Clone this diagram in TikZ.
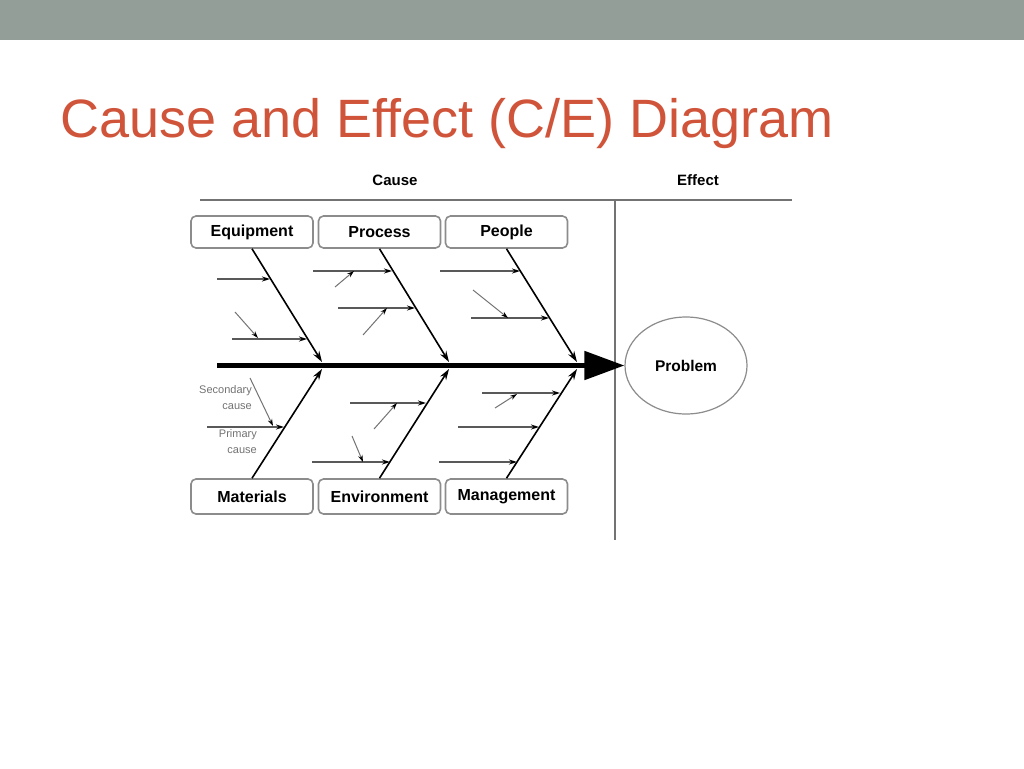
\documentclass[tikz,border=0pt]{standalone}
\usepackage{fontspec}
\setmainfont{Liberation Sans}
\usetikzlibrary{arrows.meta,shapes.geometric}
\definecolor{barcol}{RGB}{146,158,151}
\definecolor{titlecol}{RGB}{208,84,58}
\begin{document}
\begin{tikzpicture}[x=1pt,y=-1pt,
  cbox/.style={draw=black!45, line width=1.6pt, rounded corners=5pt, minimum width=122pt, minimum height=32pt, inner sep=0pt, font=\fontsize{16}{18}\selectfont\bfseries},
  bbox/.style={cbox, minimum height=35pt},
  bone/.style={line width=1.6pt, -{Stealth[length=11pt,width=7pt]}},
  prim/.style={draw=black!65, line width=1.5pt, -{Stealth[length=8pt,width=5pt,black]}},
  sec/.style={draw=black!55, line width=1pt, -{Stealth[length=7pt,width=4.5pt,black]}},
  frameline/.style={draw=black!55, line width=2pt},
  hdr/.style={font=\fontsize{15}{17}\selectfont\bfseries, inner sep=0pt},
  small/.style={font=\fontsize{11}{16}\selectfont, text=black!55, align=right, inner sep=0pt}]
\useasboundingbox (0,0) rectangle (1024,768);
\fill[white] (0,0) rectangle (1024,768);
\fill[barcol] (0,0) rectangle (1024,40);
\node[anchor=base west, text=titlecol, font=\fontsize{54}{60}\selectfont, inner sep=0pt] (title) at (60,137) {Cause and Effect (C/E) Diagram};

% header and frame
\node[hdr] (causelbl) at (395,180) {Cause};
\node[hdr] (effectlbl) at (698,180) {Effect};
\coordinate (fl) at (200,200);
\coordinate (fr) at (792,200);
\coordinate (vt) at (615,200);
\coordinate (vb) at (615,540);
\draw[frameline] (fl) -- (fr);
\draw[frameline] (vt) -- (vb);

% effect
\node[ellipse, draw=black!45, line width=1.2pt, minimum width=122pt, minimum height=97pt, inner sep=0pt, font=\fontsize{15.5}{18}\selectfont\bfseries] (problem) at (686,365.5) {Problem};

% spine
\coordinate (sp) at (217,365.5);
\draw[line width=5pt, -{Triangle[length=40pt,width=28pt]}] (sp) -- (problem.west);

% category boxes
\node[cbox] (equip) at (252,232) {Equipment};
\node[cbox] (process) at (379.5,232) {Process};
\node[cbox] (people) at (506.5,232) {People};
\node[bbox] (materials) at (252,496.5) {Materials};
\node[bbox] (environ) at (379.5,496.5) {Environment};
\node[bbox] (manage) at (506.5,496.5) {\raisebox{3pt}{Management}};

% main bones
\coordinate (eqend) at (322,362);
\coordinate (prend) at (449,362);
\coordinate (peend) at (577,362);
\coordinate (maend) at (322,369);
\coordinate (enend) at (449,369);
\coordinate (mgend) at (577,369);
\draw[bone] (equip.south) -- (eqend);
\draw[bone] (process.south) -- (prend);
\draw[bone] (people.south) -- (peend);
\draw[bone] (materials.north) -- (maend);
\draw[bone] (environ.north) -- (enend);
\draw[bone] (manage.north) -- (mgend);

% Equipment causes
\coordinate (e1a) at (217,279); \coordinate (e1b) at (270,279);
\coordinate (e2a) at (232,339); \coordinate (e2b) at (307,339);
\coordinate (e3a) at (235,312); \coordinate (e3b) at (258,338);
\draw[prim] (e1a) -- (e1b);
\draw[prim] (e2a) -- (e2b);
\draw[sec] (e3a) -- (e3b);

% Process causes
\coordinate (p1a) at (313,271); \coordinate (p1b) at (392,271);
\coordinate (p2a) at (338,308); \coordinate (p2b) at (415,308);
\coordinate (p3a) at (335,287); \coordinate (p3b) at (354,271);
\coordinate (p4a) at (363,335); \coordinate (p4b) at (387,308);
\draw[prim] (p1a) -- (p1b);
\draw[prim] (p2a) -- (p2b);
\draw[sec] (p3a) -- (p3b);
\draw[sec] (p4a) -- (p4b);

% People causes
\coordinate (q1a) at (440,271); \coordinate (q1b) at (520,271);
\coordinate (q2a) at (471,318); \coordinate (q2b) at (549,318);
\coordinate (q3a) at (473,290); \coordinate (q3b) at (508,318);
\draw[prim] (q1a) -- (q1b);
\draw[prim] (q2a) -- (q2b);
\draw[sec] (q3a) -- (q3b);

% Materials causes
\coordinate (m1a) at (207,427); \coordinate (m1b) at (284,427);
\coordinate (m2a) at (250,378); \coordinate (m2b) at (273,426);
\draw[prim] (m1a) -- (m1b);
\draw[sec] (m2a) -- (m2b);
\node[small, anchor=north east] (seclbl) at (252,385) {Secondary\\cause};
\node[small, anchor=north east] (primlbl) at (257,429) {Primary\\cause};

% Environment causes
\coordinate (n1a) at (350,403); \coordinate (n1b) at (426,403);
\coordinate (n2a) at (312,462); \coordinate (n2b) at (390,462);
\coordinate (n3a) at (374,429); \coordinate (n3b) at (397,403);
\coordinate (n4a) at (352,436); \coordinate (n4b) at (363,462);
\draw[prim] (n1a) -- (n1b);
\draw[prim] (n2a) -- (n2b);
\draw[sec] (n3a) -- (n3b);
\draw[sec] (n4a) -- (n4b);

% Management causes
\coordinate (g1a) at (482,393); \coordinate (g1b) at (560,393);
\coordinate (g2a) at (458,427); \coordinate (g2b) at (539,427);
\coordinate (g3a) at (439,462); \coordinate (g3b) at (517,462);
\coordinate (g4a) at (495,408); \coordinate (g4b) at (517,394);
\draw[prim] (g1a) -- (g1b);
\draw[prim] (g2a) -- (g2b);
\draw[prim] (g3a) -- (g3b);
\draw[sec] (g4a) -- (g4b);
\end{tikzpicture}
\end{document}
